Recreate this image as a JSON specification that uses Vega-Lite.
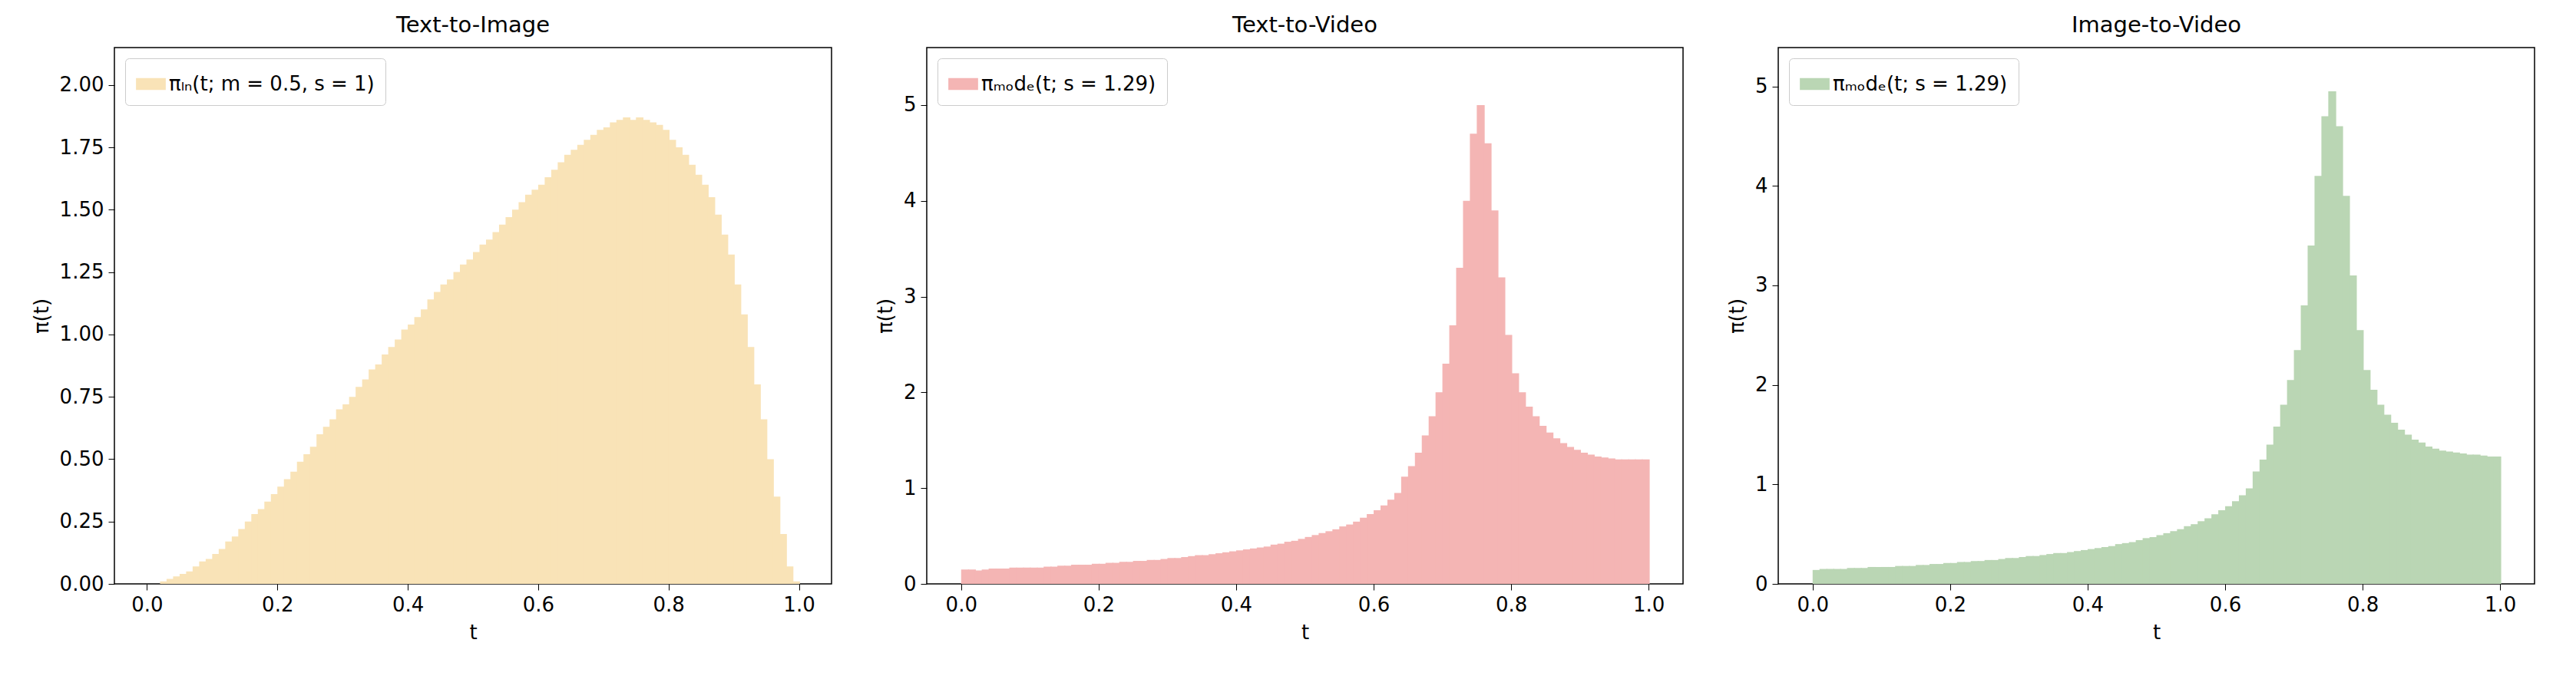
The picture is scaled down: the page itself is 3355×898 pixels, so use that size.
{
"$schema":"https://vega.github.io/schema/vega-lite/v6.json",
"padding":{"left":40,"top":18,"right":10,"bottom":5},
"background":"white",
"config":{"view":{"stroke":"black","strokeWidth":1.5},"font":"DejaVu Sans",
"axis":{"grid":false,"domain":false,"tickColor":"black","tickSize":8,"labelFontSize":26,"titleFontSize":26,"labelColor":"black","titleColor":"black","titleFontWeight":"normal","labelPadding":6,"titlePadding":10},
"title":{"fontSize":29,"fontWeight":"normal","offset":14},
"legend":{"orient":"top-left","offset":14,"labelFontSize":26,"labelLimit":0,"strokeColor":"#cccccc","padding":14,"cornerRadius":5,"fillColor":"white","symbolType":"M-1,-0.4H1V0.4H-1Z","symbolSize":1500,"symbolStrokeWidth":0,"symbolOpacity":1,"title":null}},
"datasets":{
"p1":[0,0,0.01,0.02,0.03,0.04,0.05,0.07,0.09,0.1,0.12,0.14,0.17,0.19,0.22,0.25,0.28,0.3,0.33,0.36,0.39,0.42,0.45,0.49,0.52,0.55,0.6,0.63,0.66,0.7,0.72,0.75,0.79,0.82,0.86,0.88,0.92,0.95,0.98,1.02,1.04,1.07,1.1,1.14,1.17,1.2,1.22,1.25,1.28,1.3,1.33,1.36,1.38,1.41,1.44,1.47,1.5,1.53,1.56,1.58,1.6,1.63,1.66,1.69,1.72,1.74,1.76,1.78,1.8,1.82,1.83,1.85,1.86,1.87,1.86,1.87,1.86,1.85,1.84,1.82,1.78,1.75,1.72,1.68,1.64,1.6,1.55,1.48,1.4,1.32,1.2,1.08,0.95,0.8,0.66,0.5,0.35,0.2,0.07,0.01],
"p2":[0.15,0.15,0.14,0.15,0.16,0.16,0.16,0.17,0.17,0.17,0.17,0.17,0.18,0.18,0.19,0.19,0.2,0.2,0.2,0.21,0.21,0.22,0.22,0.23,0.23,0.24,0.24,0.25,0.25,0.26,0.27,0.27,0.28,0.29,0.3,0.3,0.31,0.32,0.33,0.34,0.35,0.36,0.37,0.38,0.39,0.41,0.42,0.44,0.45,0.47,0.49,0.51,0.53,0.55,0.57,0.6,0.62,0.65,0.69,0.73,0.77,0.82,0.88,0.95,1.12,1.23,1.37,1.55,1.75,2.0,2.3,2.7,3.3,4.0,4.7,5.0,4.6,3.9,3.2,2.6,2.2,2.0,1.85,1.75,1.65,1.58,1.52,1.47,1.43,1.4,1.37,1.35,1.33,1.32,1.31,1.3,1.3,1.3,1.3,1.3],
"p3":[0.14,0.15,0.15,0.15,0.15,0.16,0.16,0.16,0.17,0.17,0.17,0.17,0.18,0.18,0.18,0.19,0.19,0.2,0.2,0.21,0.21,0.22,0.22,0.23,0.23,0.24,0.24,0.25,0.26,0.26,0.27,0.28,0.28,0.29,0.3,0.31,0.31,0.32,0.33,0.34,0.35,0.36,0.37,0.38,0.4,0.41,0.42,0.44,0.46,0.47,0.49,0.51,0.53,0.55,0.58,0.6,0.63,0.66,0.7,0.74,0.78,0.83,0.89,0.96,1.13,1.25,1.4,1.58,1.8,2.05,2.35,2.8,3.4,4.1,4.7,4.95,4.6,3.9,3.1,2.55,2.15,1.95,1.8,1.7,1.62,1.55,1.5,1.45,1.42,1.38,1.36,1.34,1.33,1.32,1.31,1.3,1.3,1.29,1.28,1.28]
},
"hconcat":[
{"title":"Text-to-Image","width":934,"height":699,
"data":{"name":"p1"},
"transform":[{"window":[{"op":"row_number","as":"i"}]},{"calculate":"(datum.i-1)/100","as":"t0"},{"calculate":"datum.i/100+0.0015","as":"t1"},{"calculate":"'πₗₙ(t; m = 0.5, s = 1)'","as":"lab"}],
"mark":{"type":"rect"},
"encoding":{"x":{"field":"t0","type":"quantitative","scale":{"domain":[-0.05,1.05],"nice":false,"zero":false},"axis":{"values":[0,0.2,0.4,0.6,0.8,1.0],"format":".1f"},"title":"t"},"x2":{"field":"t1"},
"y":{"field":"data","type":"quantitative","scale":{"domain":[0,2.15],"nice":false},"axis":{"values":[0,0.25,0.5,0.75,1,1.25,1.5,1.75,2],"format":".2f"},"title":"π(t)"},"y2":{"datum":0},
"color":{"field":"lab","type":"nominal","scale":{"range":["#f9e3b7"]}}}},
{"title":"Text-to-Video","width":985,"height":699,
"data":{"name":"p2"},
"transform":[{"window":[{"op":"row_number","as":"i"}]},{"calculate":"(datum.i-1)/100","as":"t0"},{"calculate":"datum.i/100+0.0015","as":"t1"},{"calculate":"'πₘₒdₑ(t; s = 1.29)'","as":"lab"}],
"mark":{"type":"rect"},
"encoding":{"x":{"field":"t0","type":"quantitative","scale":{"domain":[-0.05,1.05],"nice":false,"zero":false},"axis":{"values":[0,0.2,0.4,0.6,0.8,1.0],"format":".1f"},"title":"t"},"x2":{"field":"t1"},
"y":{"field":"data","type":"quantitative","scale":{"domain":[0,5.6],"nice":false},"axis":{"values":[0,1,2,3,4,5]},"title":"π(t)"},"y2":{"datum":0},
"color":{"field":"lab","type":"nominal","scale":{"range":["#f4b5b4"]}}}},
{"title":"Image-to-Video","width":985,"height":699,
"data":{"name":"p3"},
"transform":[{"window":[{"op":"row_number","as":"i"}]},{"calculate":"(datum.i-1)/100","as":"t0"},{"calculate":"datum.i/100+0.0015","as":"t1"},{"calculate":"'πₘₒdₑ(t; s = 1.29)'","as":"lab"}],
"mark":{"type":"rect"},
"encoding":{"x":{"field":"t0","type":"quantitative","scale":{"domain":[-0.05,1.05],"nice":false,"zero":false},"axis":{"values":[0,0.2,0.4,0.6,0.8,1.0],"format":".1f"},"title":"t"},"x2":{"field":"t1"},
"y":{"field":"data","type":"quantitative","scale":{"domain":[0,5.39],"nice":false},"axis":{"values":[0,1,2,3,4,5]},"title":"π(t)"},"y2":{"datum":0},
"color":{"field":"lab","type":"nominal","scale":{"range":["#bad6b4"]}}}}
],
"spacing":55,
"resolve":{"scale":{"color":"independent"},"legend":{"color":"independent"}}
}
